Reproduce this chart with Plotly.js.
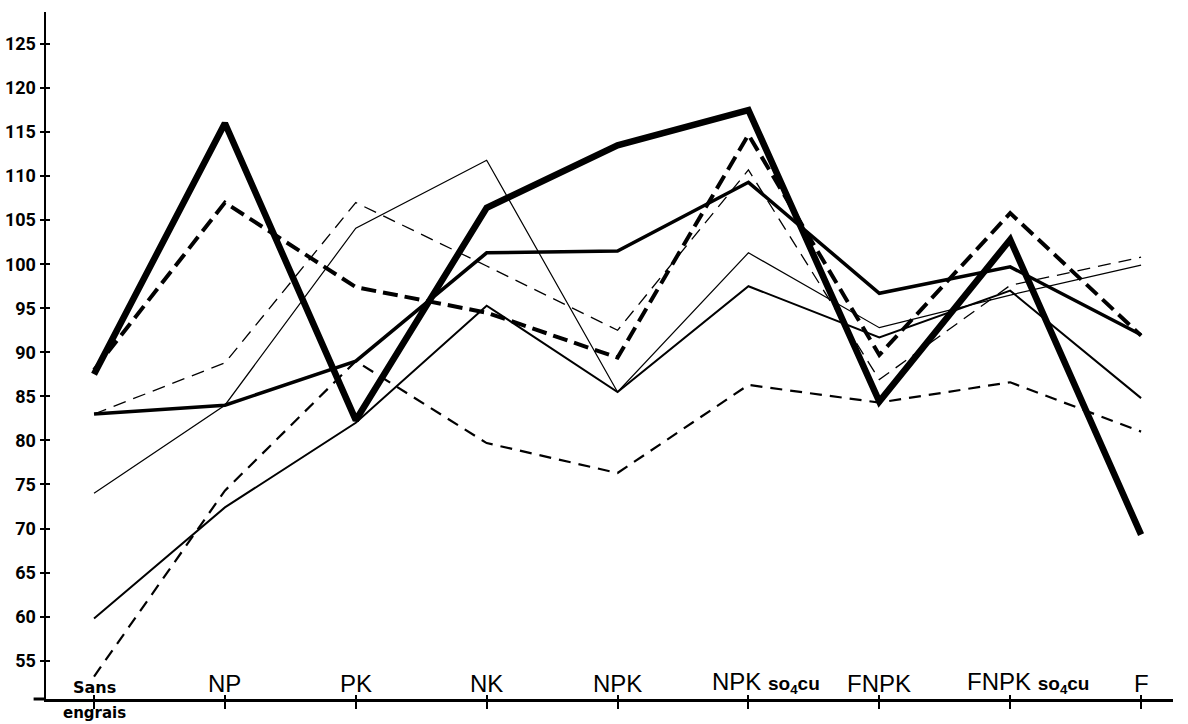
<!DOCTYPE html>
<html>
<head>
<meta charset="utf-8">
<script src="https://cdn.plot.ly/plotly-3.0.1.min.js"></script>
<style>html,body{margin:0;padding:0;background:#fff;}#chart{width:1188px;height:724px;}</style>
</head>
<body>
<div id="chart"></div>
<script>
// Categories (treatments)
const categories = ["Sans engrais", "NP", "PK", "NK", "NPK", "NPK so4cu", "FNPK", "FNPK so4cu", "F"];
// Displayed labels above the axis
const tickLabels = ["Sans", "NP", "PK", "NK", "NPK",
  "NPK <span style='font-size:19px;font-weight:bold'>so<sub>4</sub>cu</span>",
  "FNPK",
  "FNPK <span style='font-size:19px;font-weight:bold'>so<sub>4</sub>cu</span>",
  "F"];
const subLabel = "engrais";
// Y ticks
const yTicks = [55, 60, 65, 70, 75, 80, 85, 90, 95, 100, 105, 110, 115, 120, 125];

// Series values
const serieA = [87.5, 116, 82.3, 106.4, 113.5, 117.5, 84.4, 102.8, 69.3];   // very thick solid
const serieB = [88, 107, 97.4, 94.5, 89.4, 114.7, 89.7, 105.8, 91.9];       // thick dashed
const serieC = [83, 84, 89, 101.3, 101.5, 109.3, 96.7, 99.7, 92];           // medium-thick solid
const serieD = [83, 88.8, 107, 99.8, 92.5, 110.7, 86.9, 97.6, 100.8];       // thin dashed
const serieE = [74, 84, 104.1, 111.8, 85.5, 101.3, 92.8, 96.5, 99.9];       // thin solid
const serieF = [59.8, 72.4, 82, 95.3, 85.5, 97.5, 91.7, 97, 84.8];          // medium solid
const serieG = [53.2, 74.3, 89, 79.7, 76.3, 86.3, 84.3, 86.6, 81];          // medium dashed

const xs = categories.map((_, i) => i);

function line(y, width, dash) {
  return {x: xs, y: y, type: 'scatter', mode: 'lines', hoverinfo: 'skip',
    line: {color: '#000', width: width, dash: dash || 'solid'}, showlegend: false};
}

const traces = [
  line(serieE, 1.2),
  line(serieD, 1.3, '13px,8px'),
  line(serieF, 2),
  line(serieG, 2.2, '12px,8px'),
  line(serieC, 3.5),
  line(serieB, 4, '15px,7px'),
  line(serieA, 6.5),
  {x: [], y: [], xaxis: 'x2', yaxis: 'y2', type: 'scatter', mode: 'lines', showlegend: false}
];

const xr = [-0.367, 8.244];
const yr = [50.65, 128.63];

const annotations = tickLabels.map((t, i) => ({
  x: i, y: 0, xref: 'x', yref: 'paper', text: t, showarrow: false,
  xanchor: 'center', yanchor: 'bottom', yshift: 0,
  xshift: t.indexOf('so<sub>') >= 0 ? 18 : 0,
  font: i === 0 ? {family: 'DejaVu Sans', size: 16, weight: 'bold', color: '#000'}
                : {family: 'Liberation Sans', size: 24, color: '#000'}
}));
annotations.push({
  x: 0, y: 0, xref: 'x', yref: 'paper', text: subLabel, showarrow: false,
  xanchor: 'center', yanchor: 'top', yshift: -3,
  font: {family: 'DejaVu Sans', size: 15, weight: 'bold', color: '#000'}
});

const layout = {
  width: 1188, height: 724,
  margin: {l: 46, r: 15, t: 12, b: 25, pad: 0},
  paper_bgcolor: '#fff', plot_bgcolor: '#fff',
  showlegend: false,
  xaxis: {range: xr, tickvals: xs, showticklabels: false, ticks: 'outside', ticklen: 7, tickwidth: 2,
    tickcolor: '#000', showline: true, linecolor: '#000', linewidth: 3, showgrid: false, zeroline: false,
    fixedrange: true},
  xaxis2: {range: xr, tickvals: xs, overlaying: 'x', anchor: 'y', side: 'bottom', showticklabels: false,
    ticks: 'inside', ticklen: 4, tickwidth: 2, tickcolor: '#000', showline: false, showgrid: false, zeroline: false},
  yaxis: {range: yr, tickvals: yTicks, ticktext: yTicks.map(String), ticks: 'outside', ticklen: 4, tickwidth: 2,
    tickcolor: '#000', showline: true, linecolor: '#000', linewidth: 2.5, showgrid: false, zeroline: false,
    tickfont: {family: 'Roboto', size: 18, weight: 'bold', color: '#000'}, fixedrange: true},
  yaxis2: {range: yr, tickvals: yTicks, overlaying: 'y', anchor: 'x', side: 'left', showticklabels: false,
    ticks: 'inside', ticklen: 4, tickwidth: 2, tickcolor: '#000', showline: false, showgrid: false, zeroline: false},
  annotations: annotations,
  shapes: [{type: 'line', xref: 'paper', yref: 'paper', x0: -0.011, x1: 0, y0: 0, y1: 0,
    line: {color: '#000', width: 3}}]
};

Plotly.newPlot('chart', traces, layout, {displayModeBar: false, staticPlot: true});
</script>
</body>
</html>
